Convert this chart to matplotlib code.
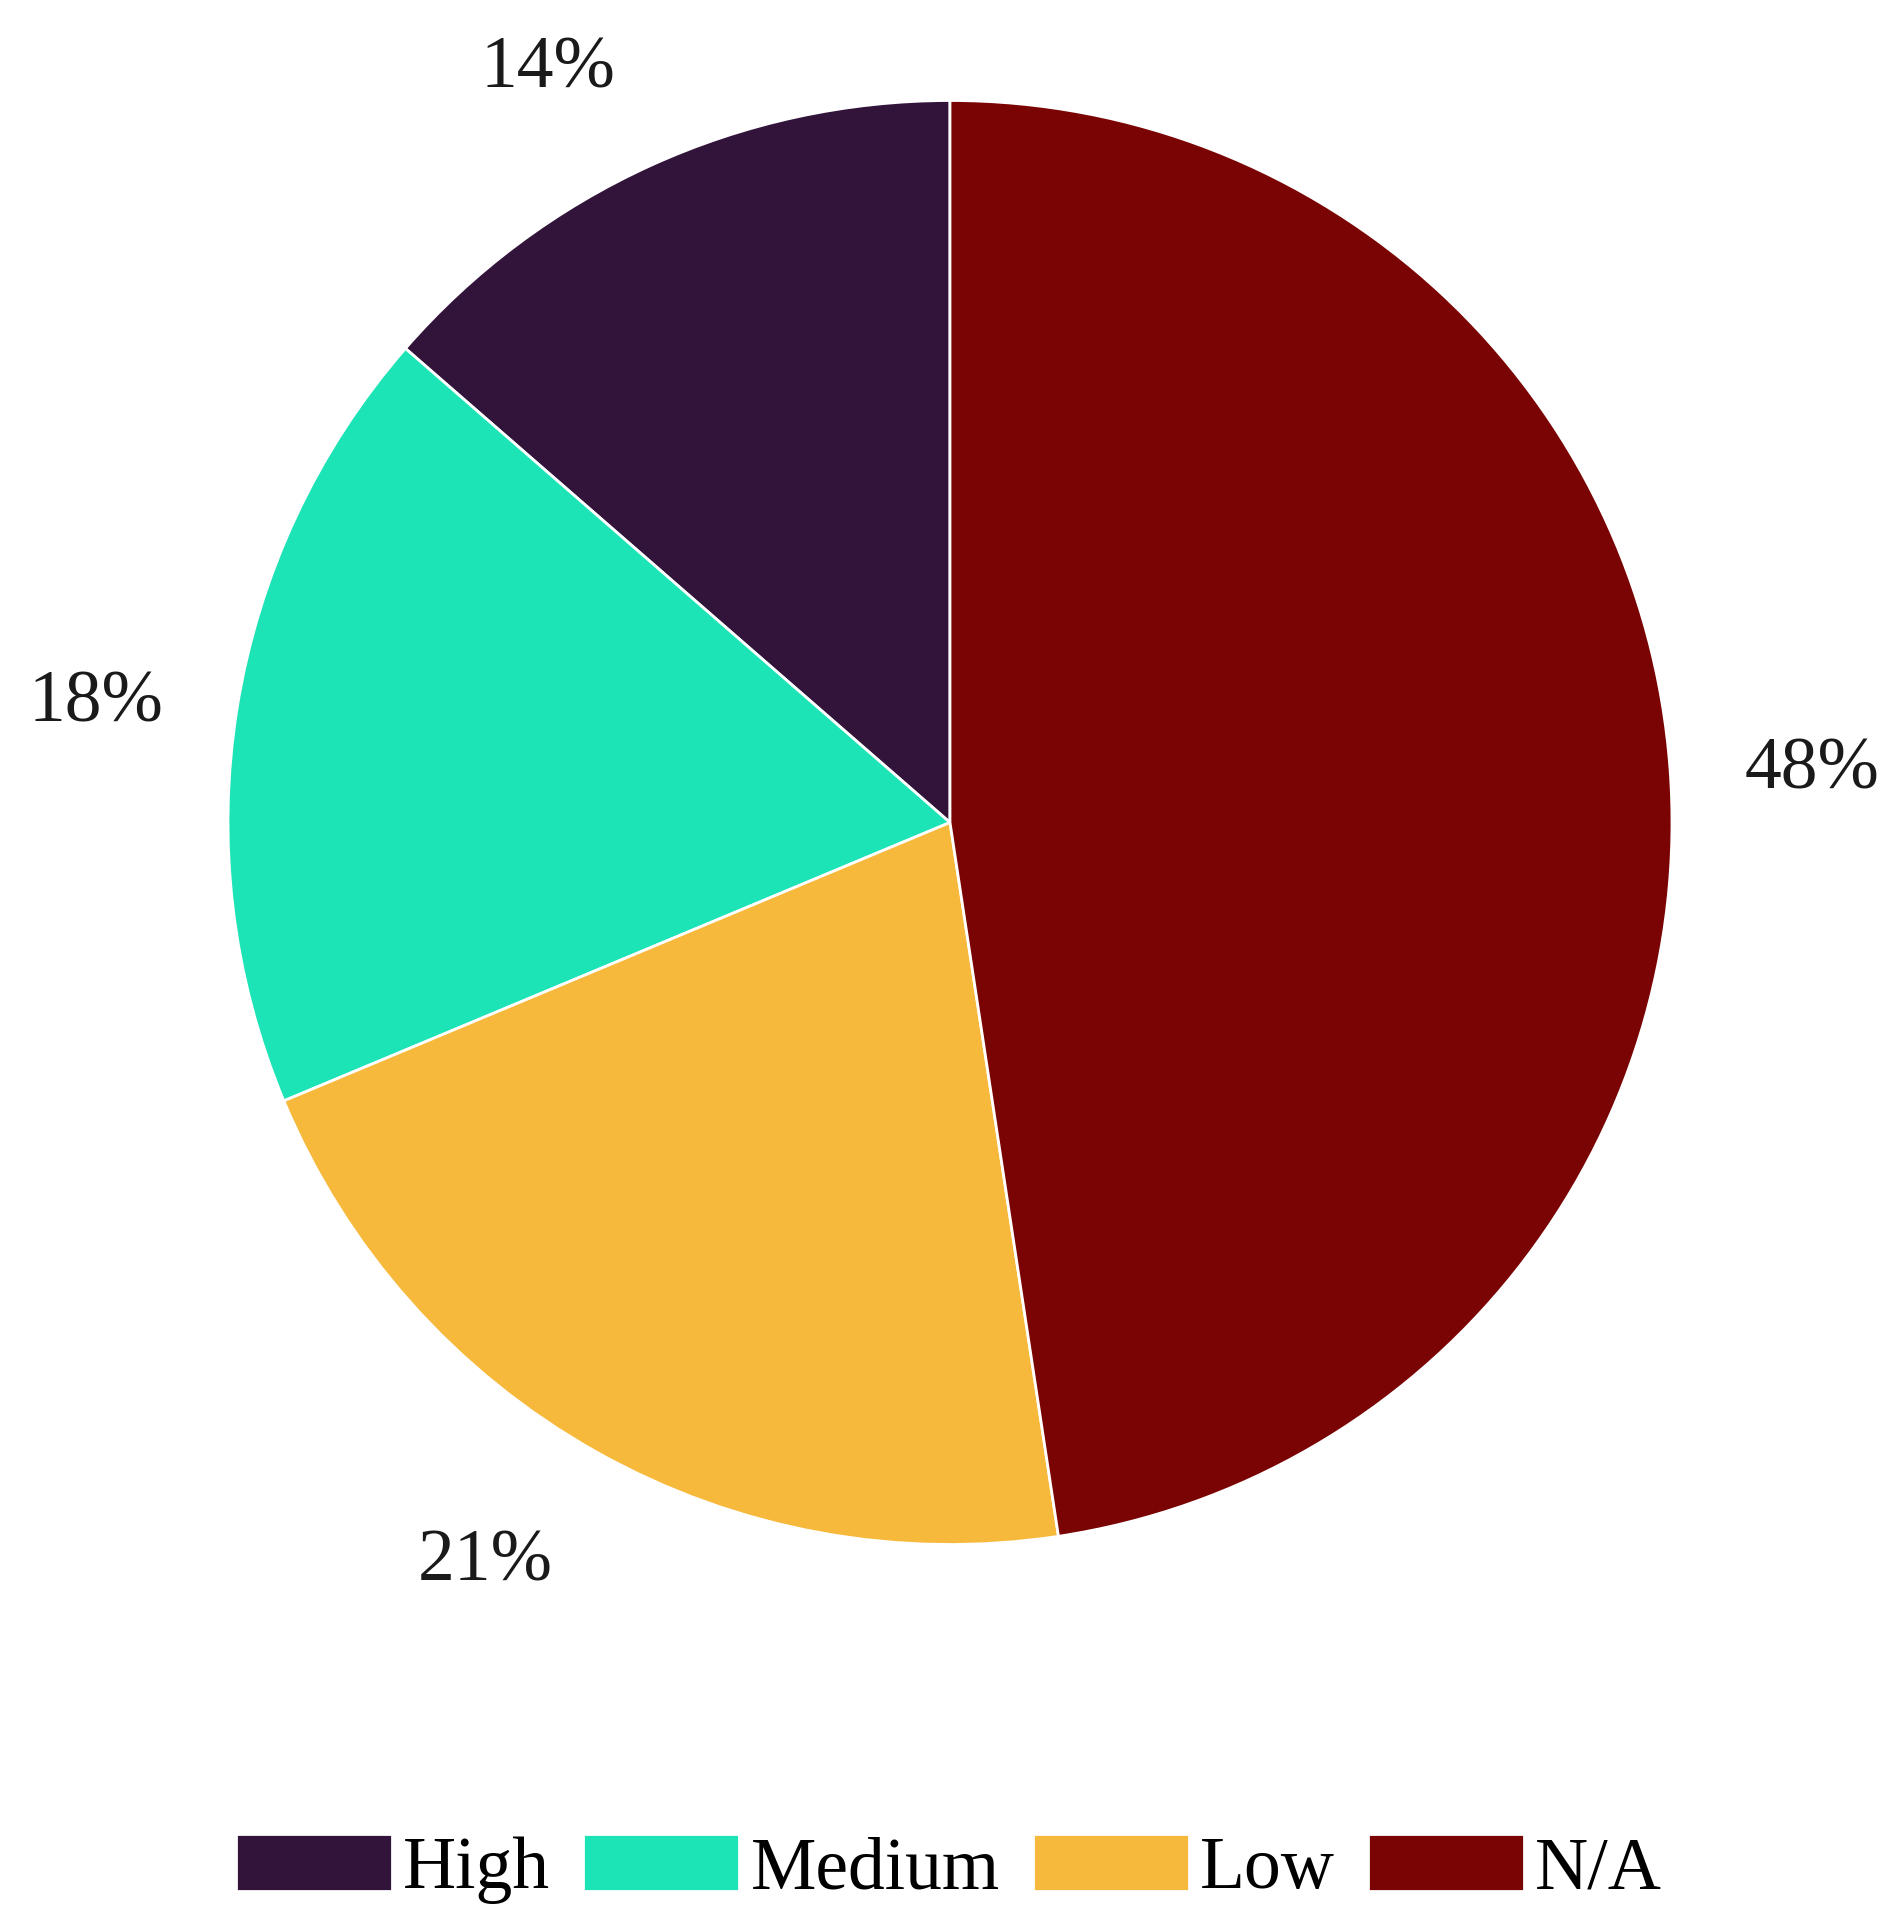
import matplotlib
matplotlib.use("Agg")
import numpy as np
import matplotlib.pyplot as plt

categories = ["High", "Medium", "Low", "N/A"]
values = [13.6, 17.7, 21.1, 47.6]
colors = ["#32133a", "#1de4b6", "#f7b93b", "#7a0403"]

plt.rcParams['font.family'] = ['Liberation Serif', 'DejaVu Serif']

fig = plt.figure(figsize=(18.98, 19.25), dpi=100)
ax = fig.add_axes([0, 0, 1, 1])

wedges, _ = ax.pie(
    values, colors=colors, startangle=90, counterclock=True, radius=1.0,
    wedgeprops=dict(edgecolor='white', linewidth=2),
)

total = float(sum(values))
for w, v in zip(wedges, values):
    mid = np.deg2rad((w.theta1 + w.theta2) / 2.0)
    c, s = np.cos(mid), np.sin(mid)
    ha = 'left' if c > 0 else 'right'
    if s > 0.5:
        va, g = 'baseline', 86
    elif s < -0.5:
        va, g = 'top', 88
    else:
        va, g = 'center_baseline', 75
    ax.annotate(f"{v / total * 100:.0f}%", xy=(c, s), xytext=(g * c, g * s),
                textcoords='offset pixels', ha=ha, va=va,
                fontsize=53, color='#1a1a1a')

R = 722.0
cx, cy_top = 950.0, 822.5
W, H = 1898.0, 1925.0
ax.set_aspect('auto')
ax.set_xlim(-cx / R, (W - cx) / R)
ax.set_ylim(-(H - cy_top) / R, cy_top / R)
ax.axis('off')

leg = fig.legend(wedges, categories, loc='center', bbox_to_anchor=(0.5, 0.029),
                 ncol=4, frameon=False, fontsize=53,
                 handlelength=2.12, handleheight=0.82, handletextpad=0.15,
                 columnspacing=0.45)

fig.savefig("out.png", dpi=100)
